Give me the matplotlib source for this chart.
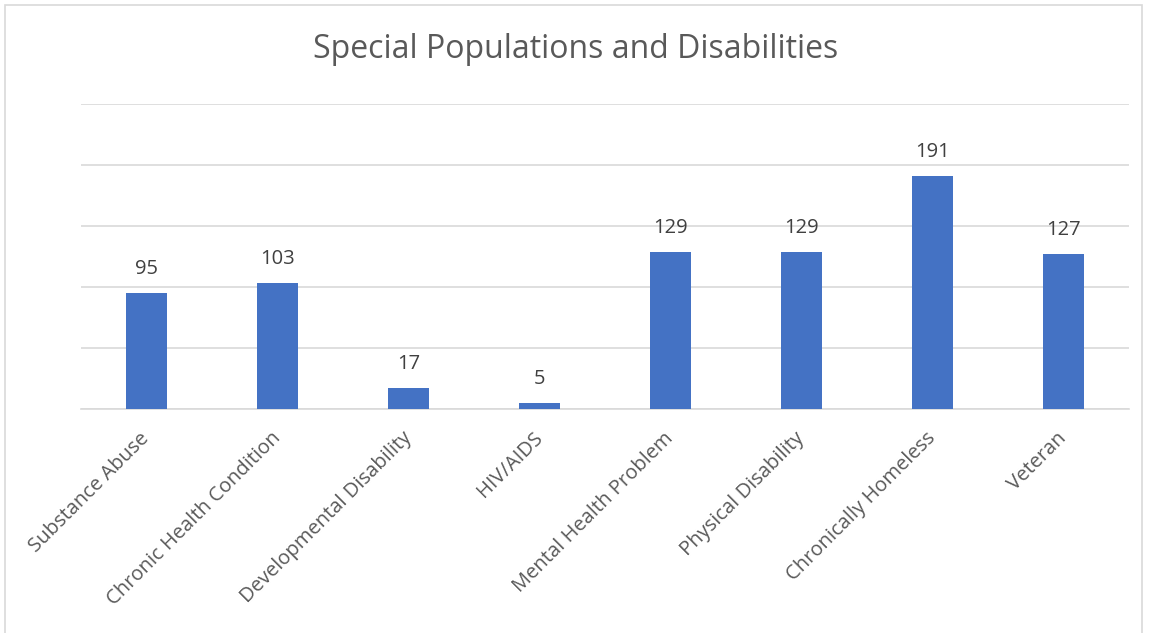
import matplotlib
matplotlib.use("Agg")
import matplotlib.pyplot as plt
from matplotlib.patches import Rectangle

categories = ["Substance Abuse", "Chronic Health Condition", "Developmental Disability",
              "HIV/AIDS", "Mental Health Problem", "Physical Disability",
              "Chronically Homeless", "Veteran"]
counts = [95, 103, 17, 5, 129, 129, 191, 127]
grid_ticks = [0, 50, 100, 150, 200, 250]

plt.rcParams['font.family'] = ['Open Sans', 'DejaVu Sans']
txt = '#595959'

fig = plt.figure(figsize=(11.52, 6.33), dpi=100)
ax = fig.add_axes([81/1152, (633-409)/633, (1129-81)/1152, (409-104)/633])

x = list(range(len(categories)))
bars = ax.bar(x, counts, width=0.31, color='#4472C4', zorder=3)
for b, v in zip(bars, counts):
    ax.annotate(str(v), (b.get_x() + b.get_width()/2, v), xytext=(0, 10),
                textcoords='offset points', ha='center', va='bottom',
                fontsize=14.5, color='#404040')

ax.set_xlim(-0.5, len(categories) - 0.5)
ax.set_ylim(0, 250)
ax.set_yticks(grid_ticks)
ax.set_yticklabels([])
ax.tick_params(axis='y', length=0)
ax.grid(axis='y', color='#D9D9D9', linewidth=1.2, zorder=0)
for s in ['top', 'right', 'left']:
    ax.spines[s].set_visible(False)
ax.spines['bottom'].set_color('#D9D9D9')
ax.spines['bottom'].set_linewidth(1.2)

ax.set_xticks(x)
ax.set_xticklabels(categories, rotation=45, ha='right', va='center',
                   rotation_mode='anchor', fontsize=14.5, color=txt)
ax.tick_params(axis='x', length=0, pad=19)

fig.text(0.5, 1 - 50/633, "Special Populations and Disabilities", ha='center', va='center',
         fontsize=23, color=txt)

fig.patches.append(Rectangle((5/1152, -0.01), (1142-5)/1152, 1 - 5/633 + 0.01,
                             transform=fig.transFigure, fill=False,
                             edgecolor='#D9D9D9', linewidth=1.2))

fig.savefig("out.png", dpi=100)
